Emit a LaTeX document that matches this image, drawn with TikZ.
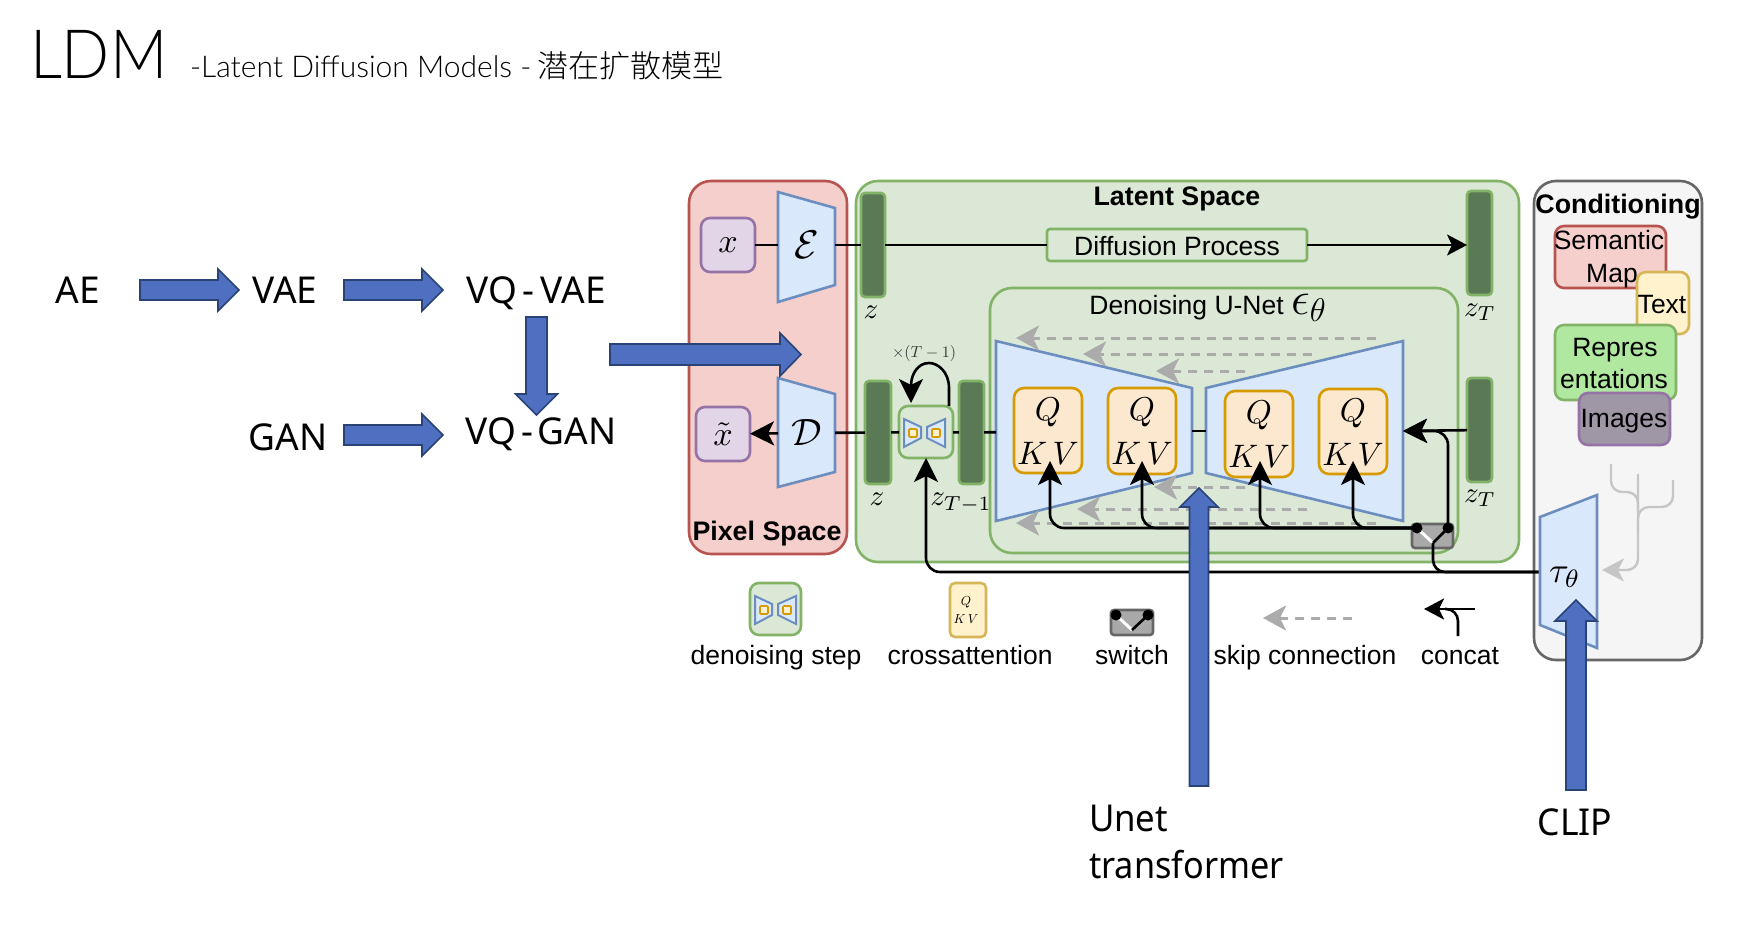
\documentclass[tikz,border=0pt]{standalone}
\usepackage{fontspec}
\usepackage{graphicx}
\usetikzlibrary{arrows.meta,calc}
\setmainfont{Liberation Sans}
\newfontfamily\thinfont{Lato Light}
\newfontfamily\pptfont{Noto Sans}
\newfontfamily\cjk{Noto Sans CJK SC}[UprightFont=* Light]
\definecolor{blueF}{HTML}{4F6FC0}
\definecolor{blueS}{HTML}{2A4377}
\newcommand\fs[1]{\fontsize{#1}{#1}\selectfont}
% name, style, x1, y1, x2, y2, text
\newcommand\bx[7]{\node[#2,minimum width={(#5-(#3))*1pt},minimum height={(#6-(#4))*1pt}] (#1) at ({(#3+#5)/2},{(#4+#6)/2}) {#7};}
\newcommand\harr[6]{\draw[bluearrow] (#1,{#4-#5}) -- (#3,{#4-#5}) -- (#3,{#4-#6}) -- (#2,#4) -- (#3,{#4+#6}) -- (#3,{#4+#5}) -- (#1,{#4+#5}) -- cycle;}
\newcommand\varr[6]{\draw[bluearrow] ({#4-#5},#1) -- ({#4-#5},#3) -- ({#4-#6},#3) -- (#4,#2) -- ({#4+#6},#3) -- ({#4+#5},#3) -- ({#4+#5},#1) -- cycle;}
\tikzset{
  x=1pt,y=-1pt,
  every node/.style={inner sep=0pt,outer sep=0pt},
  lbl/.style={font=\fs{26.5},anchor=base},
  blbl/.style={font=\fs{26.8}\bfseries,anchor=base},
  ppt/.style={font=\pptfont\fs{37},anchor=base},
  pane/.style={draw=#1,line width=2.6pt,rounded corners=22pt},
  small/.style={line width=2.6pt,rounded corners=9pt},
  zbar/.style={draw=latS,fill=zF,line width=2.6pt,rounded corners=4pt},
  qbox/.style={draw=qS,fill=qF,line width=2.6pt,rounded corners=10pt,align=center},
  trap/.style={draw=trS,fill=trF,line width=2.6pt,line join=miter},
  conn/.style={draw=black,line width=2.6pt},
  arr/.style={conn,-{Stealth[length=24pt,width=24pt,inset=6pt]}},
  thinarr/.style={conn,-{Stealth[length=20pt,width=21pt,inset=5pt]}},
  skip/.style={draw=skipC,line width=3pt,dash pattern=on 9pt off 7pt,-{Stealth[length=23pt,width=25pt,inset=6pt,color=skipC,sep=0pt]}},
  tree/.style={draw=treeC,line width=2.4pt,rounded corners=11pt},
  bluearrow/.style={draw=blueS,fill=blueF,line width=1.6pt,line join=miter},
}
\definecolor{latS}{HTML}{82B366}
\definecolor{latF}{HTML}{DAE8D5}
\definecolor{zF}{HTML}{5A7A55}
\definecolor{qS}{HTML}{D79B00}
\definecolor{qF}{HTML}{FCE8CE}
\definecolor{trS}{HTML}{6C8EBF}
\definecolor{trF}{HTML}{DAE8FC}
\definecolor{skipC}{HTML}{ABABAB}
\definecolor{treeC}{HTML}{C6C6C6}
\definecolor{pxS}{HTML}{B85450}
\definecolor{pxF}{HTML}{F5CFCB}
\definecolor{puS}{HTML}{9673A6}
\definecolor{puF}{HTML}{E1D5E7}
\definecolor{yeS}{HTML}{D6B656}
\definecolor{yeF}{HTML}{FFF2CC}
\definecolor{grS}{HTML}{666666}
\definecolor{grF}{HTML}{F5F5F5}
\definecolor{reF}{HTML}{B0E8A0}
\definecolor{imF}{HTML}{9F97A6}
\definecolor{swF}{HTML}{A9A9A9}
\begin{document}
\begin{tikzpicture}
\useasboundingbox[fill=white] (0,0) rectangle (1744,928);
% title
\node[anchor=base west,font=\thinfont\fs{68}] (ldm) at (30,79) {\scalebox{.93}[1]{LDM}};
\node[anchor=base west,font=\thinfont\fs{30}] (sub) at (190,78) {-Latent Diffusion Models -};
\node[anchor=base west,font=\cjk\fs{31}] (subc) at (537,78) {潜在扩散模型};
% left chain
\node[ppt] (ae) at (78,303) {AE};
\node[ppt] (vae) at (285,303) {VAE};
\node[ppt] (vqvae) at (536,303) {VQ\kern6pt-\kern6pt VAE};
\node[ppt] (gan) at (288,450) {GAN};
\node[ppt] (vqgan) at (541,444) {VQ\kern5pt-\kern5pt GAN};
% panes
\bx{pixel}{pane=pxS,fill=pxF}{689}{181}{847}{554}{}
\bx{latent}{pane=latS,fill=latF}{856}{181}{1519}{562}{}
\bx{unet}{pane=latS,fill=latF}{990}{288}{1458}{553}{}
\bx{cond}{pane=grS,fill=grF}{1534}{181}{1702}{660}{}
\node[blbl] (pixt) at (767,540) {Pixel Space};
\node[blbl] (latt) at (1177,205) {Latent Space};
\node[blbl] (cont) at (1618,213) {Conditioning};
\node[lbl] (unt) at (1208,314) {Denoising U-Net \scalebox{1.9}{$\epsilon_\theta$}};
% pixel space
\bx{xbox}{small,draw=puS,fill=puF}{701}{218}{755}{272}{\scalebox{3.4}{$x$}}
\bx{xtbox}{small,draw=puS,fill=puF}{696}{407}{750}{461}{\scalebox{3.4}{$\tilde x$}}
\draw[trap] (778,192) -- (835,208) -- (835,285) -- (778,302) -- cycle;
\draw[trap] (778,378) -- (835,394) -- (835,472) -- (778,487) -- cycle;
\node[minimum width=57pt,minimum height=20pt] (enc) at (806.5,245) {\scalebox{4}{$\mathcal{E}$}};
\node[minimum width=57pt,minimum height=20pt] (dec) at (806.5,433) {\scalebox{3.8}{$\mathcal{D}$}};
% latents
\bx{z1}{zbar}{861}{193}{885}{297}{}
\node (z1t) at (871,312) {\scalebox{2.9}{$z$}};
\bx{z2}{zbar}{865}{381}{891}{484}{}
\node (z2t) at (877,499) {\scalebox{2.9}{$z$}};
\bx{ztm}{zbar}{959}{381}{984}{484}{}
\node (ztmt) at (961,503) {\scalebox{2.9}{$z_{T-1}$}};
\bx{zT1}{zbar}{1467}{191}{1492}{295}{}
\node (zT1t) at (1480,312) {\scalebox{2.9}{$z_T$}};
\bx{zT2}{zbar}{1467}{378}{1492}{482}{}
\node (zT2t) at (1480,498) {\scalebox{2.9}{$z_T$}};
\bx{dp}{draw=latS,fill=latF,line width=2.6pt,rounded corners=3pt}{1047}{229}{1307}{261}{}
\node[lbl] (dpt) at (1177,255) {Diffusion Process};
\node (tm) at (924,353) {\textcolor{black!80}{\scalebox{1.6}{$\times(T-1)$}}};
% denoising step
\bx{den}{small,draw=latS,fill=latF}{899}{406}{953}{458}{}
\draw[trap,line width=2pt] (904,419) -- (921,427) -- (921,438) -- (904,447) -- cycle;
\draw[trap,line width=2pt] (945,419) -- (927,427) -- (927,438) -- (945,447) -- cycle;
\draw[qS,fill=yeF,line width=1.6pt,rounded corners=1pt] (909,429) rectangle (917,437);
\draw[qS,fill=yeF,line width=1.6pt,rounded corners=1pt] (932,429) rectangle (940,437);
% unet
\draw[trap] (996,341) -- (1192,388) -- (1192,473) -- (996,521) -- cycle;
\draw[trap] (1206,388) -- (1403,341) -- (1403,521) -- (1206,473) -- cycle;
\node[minimum width=196pt,minimum height=20pt] (dn) at (1094,431) {};
\node[minimum width=197pt,minimum height=20pt] (up) at (1304.5,431) {};
\newcommand\qk[5]{\bx{#1}{qbox}{#2}{#3}{#4}{#5}{}\node at ({(#2+#4)/2},{#3+24}) {\scalebox{3.3}{$Q$}};\node at ({(#2+#4)/2},{#3+65}) {\scalebox{3.25}{$K\,V$}};}
\qk{q1}{1014}{388}{1082}{473}
\qk{q2}{1108}{388}{1176}{474}
\qk{q3}{1225}{391}{1293}{477}
\qk{q4}{1319}{389}{1387}{474}
% skip connections
\coordinate (s1a) at (1376,338); \coordinate (s1b) at (1016,338);
\coordinate (s2a) at (1312,354); \coordinate (s2b) at (1083,354);
\coordinate (s3a) at (1245,371); \coordinate (s3b) at (1156,371);
\coordinate (s4a) at (1245,487); \coordinate (s4b) at (1154,487);
\coordinate (s5a) at (1307,509); \coordinate (s5b) at (1077,509);
\coordinate (s6a) at (1376,523); \coordinate (s6b) at (1016,523);
\foreach \n in {1,...,6} {\draw[skip] (s\n a) -- (s\n b);}
% connectors
\draw[conn] (xbox) -- (enc);
\draw[conn] (enc) -- (z1);
\draw[conn] (z1) -- (dp);
\draw[thinarr] (dp) -- (dp -| zT1.west);
\draw[arr] (dec) -- (xtbox);
\draw[conn] (dec) -- (z2);
\draw[conn] (z2) -- (den);
\draw[conn] (den) -- (ztm);
\draw[conn] (ztm) -- (dn);
\draw[conn] (dn) -- (up);
% switch
\bx{sw}{draw=grS,fill=swF,line width=2.6pt,rounded corners=3pt}{1412}{524}{1453}{548}{}
\coordinate (dotL) at (1417,528); \coordinate (dotR) at (1448,528);
\coordinate (kink) at (1433,543);
\draw[white,line width=3pt] (dotL) -- (kink);
\coordinate (t1) at (1050,461); \coordinate (t2) at (1142,461);
\coordinate (t3) at (1260,461); \coordinate (t4) at (1353,461);
\draw[arr,rounded corners=14pt] (dotL) -| (t1);
\draw[arr,rounded corners=14pt] (dotL) -| (t2);
\draw[arr,rounded corners=14pt] (dotL) -| (t3);
\draw[arr,rounded corners=14pt] (dotL) -| (t4);
\coordinate (upin) at (up.east);
\draw[arr,rounded corners=14pt] (dotR) |- (upin);
\draw[arr] (zT2) -- (upin);
\coordinate (tauw) at (1541,572);
\draw[conn] (dotR) -- (kink);
\draw[conn,rounded corners=12pt] (kink) |- (tauw);
\fill (dotL) circle (5.5pt);
\fill (dotR) circle (5.5pt);
\draw[arr,rounded corners=14pt] (tauw) -| (den.south);
\coordinate (la) at (949,406); \coordinate (lb) at (911,403);
\draw[arr] (la) -- (949,388) .. controls (949,372) and (938,363) .. (929,363) .. controls (918,363) and (911,374) .. (lb);
% conditioning
\bx{sem}{small,draw=pxS,fill=pxF}{1555}{226}{1666}{288}{}
\node[lbl] (semt) at (1609,249) {Semantic};
\node[lbl] (mapt) at (1612,282) {Map};
\bx{txt}{small,draw=yeS,fill=yeF}{1637}{272}{1689}{334}{}
\node[lbl] (txtt) at (1662,313) {Text};
\bx{rep}{small,draw=latS,fill=reF}{1555}{325}{1676}{400}{}
\node[lbl] (rept) at (1615,356) {Repres};
\node[lbl] (ent) at (1614,388) {entations};
\bx{img}{small,draw=puS,fill=imF}{1579}{393}{1670}{445}{}
\node[lbl] (imgt) at (1624,427) {Images};
\coordinate (tl) at (1611,464); \coordinate (tm1) at (1638,474); \coordinate (tr) at (1673,480);
\coordinate (tip) at (1602,570);
\draw[tree] (tl) |- (1638,492) -- (1638,510);
\draw[tree] (tr) |- (1638,507) -- (1638,530);
\draw[draw=treeC,line width=2.4pt,rounded corners=11pt,-{Stealth[length=22pt,width=23pt,inset=6pt,color=treeC]}] (tm1) |- (tip);
\draw[trap] (1540,517) -- (1597,495) -- (1597,648) -- (1540,625) -- cycle;
\node (tau) at (1565,577) {\scalebox{3.6}{$\tau_\theta$}};
% legend
\bx{ld}{small,draw=latS,fill=latF}{750}{583}{801}{635}{}
\draw[trap,line width=2pt] (755,596) -- (772,604) -- (772,615) -- (755,624) -- cycle;
\draw[trap,line width=2pt] (796,596) -- (778,604) -- (778,615) -- (796,624) -- cycle;
\draw[qS,fill=yeF,line width=1.6pt,rounded corners=1pt] (760,606) rectangle (768,614);
\draw[qS,fill=yeF,line width=1.6pt,rounded corners=1pt] (783,606) rectangle (791,614);
\bx{lq}{draw=yeS,fill=yeF,line width=2.6pt,rounded corners=5pt}{950}{583}{986}{637}{}
\node at (966,602) {\scalebox{1.3}{$Q$}};
\node at (966,619) {\scalebox{1.3}{$K\,V$}};
\bx{ls}{draw=grS,fill=swF,line width=2.6pt,rounded corners=3pt}{1111}{610}{1153}{635}{}
\coordinate (lsL) at (1116,615); \coordinate (lsR) at (1148,615); \coordinate (lsK) at (1132,630);
\draw[white,line width=3pt] (lsL) -- (lsK);
\draw[conn] (lsR) -- (lsK);
\fill (lsL) circle (5.5pt);
\fill (lsR) circle (5.5pt);
\coordinate (lka) at (1352,618); \coordinate (lkb) at (1263,618);
\draw[skip] (lka) -- (lkb);
\coordinate (lca) at (1475,609); \coordinate (lcb) at (1424,609); \coordinate (lcc) at (1458,636);
\draw[thinarr] (lca) -- (lcb);
\draw[conn,rounded corners=12pt] (lcc) |- (1445,609);
\node[lbl] (l1) at (776,664) {denoising step};
\node[lbl] (l2) at (970,664) {crossattention};
\node[lbl] (l3) at (1132,664) {switch};
\node[lbl] (l4) at (1305,664) {skip connection};
\node[lbl] (l5) at (1460,664) {concat};
% blue arrows
\harr{140}{239}{218}{290}{10}{21}
\harr{344}{443}{422}{290}{10}{21}
\harr{344}{443}{422}{435}{10}{21}
\varr{317}{415}{394}{536.5}{10.5}{21}
\harr{610}{801}{780}{354.5}{10.5}{21.5}
\varr{786}{488}{507}{1199}{9.5}{19}
\varr{790}{600}{621}{1576}{10}{21}
% bottom labels
\node[ppt,anchor=base west] (un1) at (1089,831) {\scalebox{.94}[1]{Unet}};
\node[ppt,anchor=base west] (un2) at (1089,878) {\scalebox{.925}[1]{transformer}};
\node[ppt] (clip) at (1575,835) {\scalebox{.96}[1]{CLIP}};
\end{tikzpicture}
\end{document}
